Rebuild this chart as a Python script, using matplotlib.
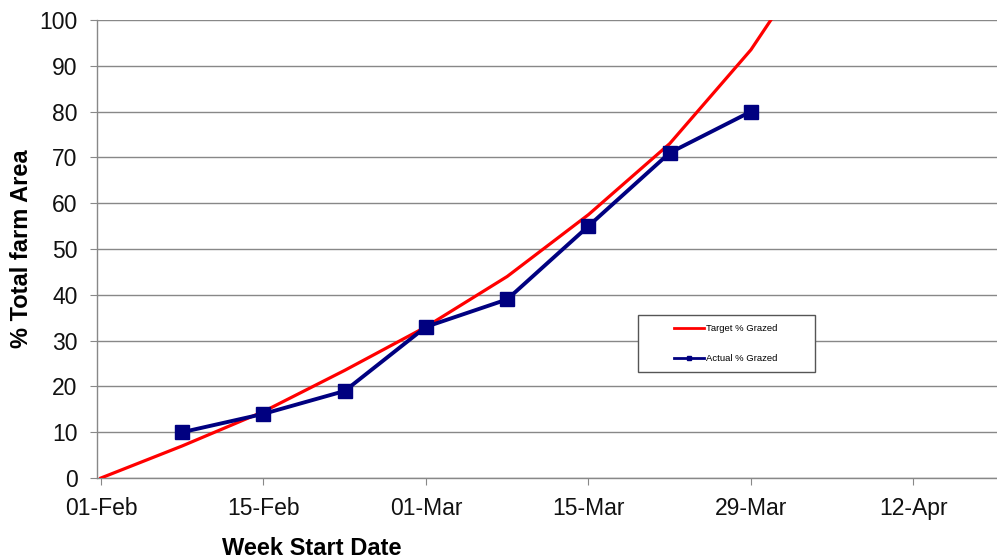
import matplotlib
matplotlib.use("Agg")
import matplotlib.pyplot as plt
import matplotlib.dates as mdates
from matplotlib.patches import Rectangle
import pandas as pd

plt.rcParams["font.family"] = ["Liberation Sans", "DejaVu Sans"]

# weekly data
target_dates = ["2009-02-01", "2009-02-08", "2009-02-15", "2009-02-22", "2009-03-01",
                "2009-03-08", "2009-03-15", "2009-03-22", "2009-03-29", "2009-04-05"]
target_pct = [0, 7, 14.5, 23.5, 33, 44, 57.5, 73, 93.5, 120]

actual_dates = ["2009-02-08", "2009-02-15", "2009-02-22", "2009-03-01",
                "2009-03-08", "2009-03-15", "2009-03-22", "2009-03-29"]
actual_pct = [10, 14, 19, 33, 39, 55, 71, 80]

tick_dates = ["2009-02-01", "2009-02-15", "2009-03-01", "2009-03-15", "2009-03-29", "2009-04-12"]

t_x = pd.to_datetime(target_dates)
a_x = pd.to_datetime(actual_dates)
ticks = pd.to_datetime(tick_dates)

fig = plt.figure(figsize=(9.97, 5.59), dpi=100)
ax = fig.add_axes([97 / 997, 1 - 478 / 559, 900 / 997, 458 / 559])

grid_c = "#888888"
ax.set_axisbelow(True)
ax.yaxis.grid(True, color=grid_c, lw=1.0)

ax.plot(t_x, target_pct, color="#ff0000", lw=2.3, label="Target % Grazed", zorder=3)
ax.plot(a_x, actual_pct, color="#000080", lw=2.8, marker="s", ms=10,
        label="Actual % Grazed", zorder=4)

x0 = mdates.date2num(pd.Timestamp("2009-02-01"))
ax.set_xlim(x0 - 0.34, x0 + 77.2)
ax.set_ylim(0, 100)
ax.set_yticks(range(0, 101, 10))
ax.set_xticks(ticks)
ax.xaxis.set_major_formatter(mdates.DateFormatter("%d-%b"))

for s in ["top", "right"]:
    ax.spines[s].set_visible(False)
for s in ["left", "bottom"]:
    ax.spines[s].set_color(grid_c)
    ax.spines[s].set_linewidth(1.0)

ax.tick_params(axis="y", length=5, color=grid_c, pad=9, labelsize=16.5, labelcolor="#111111")
ax.tick_params(axis="x", length=5, color=grid_c, pad=9, labelsize=16.5, labelcolor="#111111")

ax.set_ylabel("% Total farm Area", fontsize=17, fontweight="bold")
ax.yaxis.set_label_coords(-0.071, 0.5)
ax.set_xlabel("Week Start Date", fontsize=17, fontweight="bold")
ax.xaxis.set_label_coords(0.239, -0.128)

# legend box
ax.add_patch(Rectangle((0.601, 0.231), 0.197, 0.125, transform=ax.transAxes,
                       facecolor="white", edgecolor="#555555", lw=1.0, zorder=2))
leg = ax.legend(loc="center", bbox_to_anchor=(0.699, 0.2937), frameon=False,
                fontsize=6.8, labelspacing=2.2, handlelength=3.1, handletextpad=0.3)
for h in leg.legend_handles:
    h.set_linewidth(2.0)
leg.legend_handles[1].set_markersize(3)
leg.set_zorder(5)

fig.savefig("out.png", dpi=100)
